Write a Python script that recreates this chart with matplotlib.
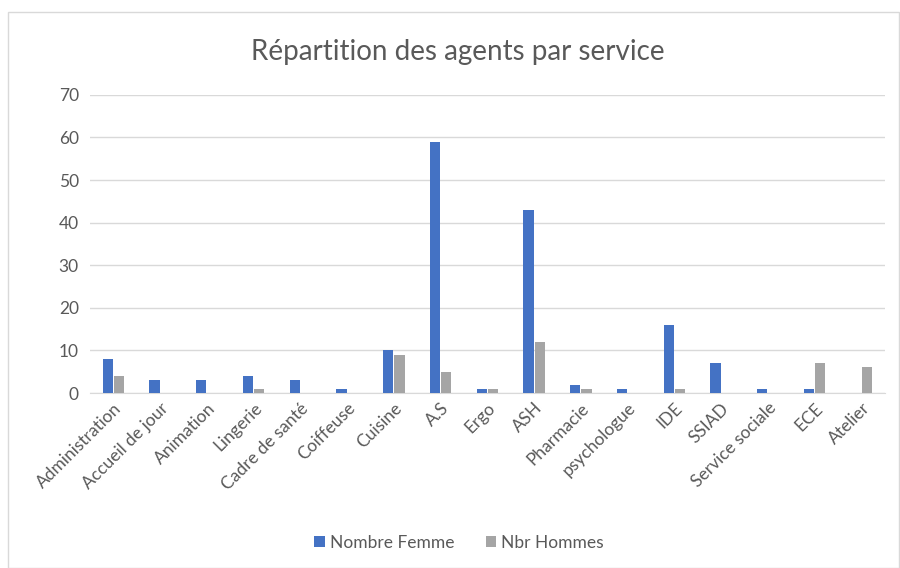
import matplotlib
matplotlib.use("Agg")
import matplotlib.pyplot as plt
import numpy as np

plt.rcParams['font.family'] = ['Lato', 'DejaVu Sans']

services = ["Administration", "Accueil de jour", "Animation", "Lingerie", "Cadre de santé",
            "Coiffeuse", "Cuisine", "A.S", "Ergo", "ASH", "Pharmacie", "psychologue",
            "IDE", "SSIAD", "Service sociale", "ECE", "Atelier"]
femmes = [8, 3, 3, 4, 3, 1, 10, 59, 1, 43, 2, 1, 16, 7, 1, 1, 0]
hommes = [4, 0, 0, 1, 0, 0, 9, 5, 1, 12, 1, 0, 1, 0, 0, 7, 6]

blue = "#4472C4"
grey = "#A5A5A5"
text_col = "#595959"

fig = plt.figure(figsize=(9, 5.68), dpi=100)
ax = fig.add_axes([0.1, 0.308, 0.883, 0.525])

x = np.arange(len(services))
w = 0.22
ax.bar(x - 0.12, femmes, w, color=blue, label="Nombre Femme", zorder=3)
ax.bar(x + 0.12, hommes, w, color=grey, label="Nbr Hommes", zorder=3)

ax.set_xlim(-0.5, len(services) - 0.5)
ax.set_ylim(0, 70)
ax.set_yticks(range(0, 71, 10))
ax.yaxis.grid(True, color="#D9D9D9", linewidth=1, zorder=0)
ax.set_axisbelow(True)
for s in ["top", "right", "left"]:
    ax.spines[s].set_visible(False)
ax.spines["bottom"].set_color("#D9D9D9")
ax.tick_params(axis="both", length=0, colors=text_col, labelsize=12.5)
ax.tick_params(axis="y", pad=8)
ax.tick_params(axis="x", pad=5)
ax.set_xticks(x)
ax.set_xticklabels(services, rotation=45, ha="right", rotation_mode="anchor")

fig.text(0.509, 0.908, "Répartition des agents par service", fontsize=20,
         color=text_col, ha="center", va="center")

fig.legend(loc="center", bbox_to_anchor=(0.51, 0.044), ncol=2, frameon=False,
           fontsize=12.5, labelcolor=text_col, handlelength=0.6, handleheight=0.6,
           columnspacing=1.8, handletextpad=0.3)

border = plt.Rectangle((0.009, 0.0), 0.99, 0.978, transform=fig.transFigure,
                       fill=False, edgecolor="#D9D9D9", linewidth=1)
fig.patches.append(border)

fig.savefig("out.png", dpi=100)
